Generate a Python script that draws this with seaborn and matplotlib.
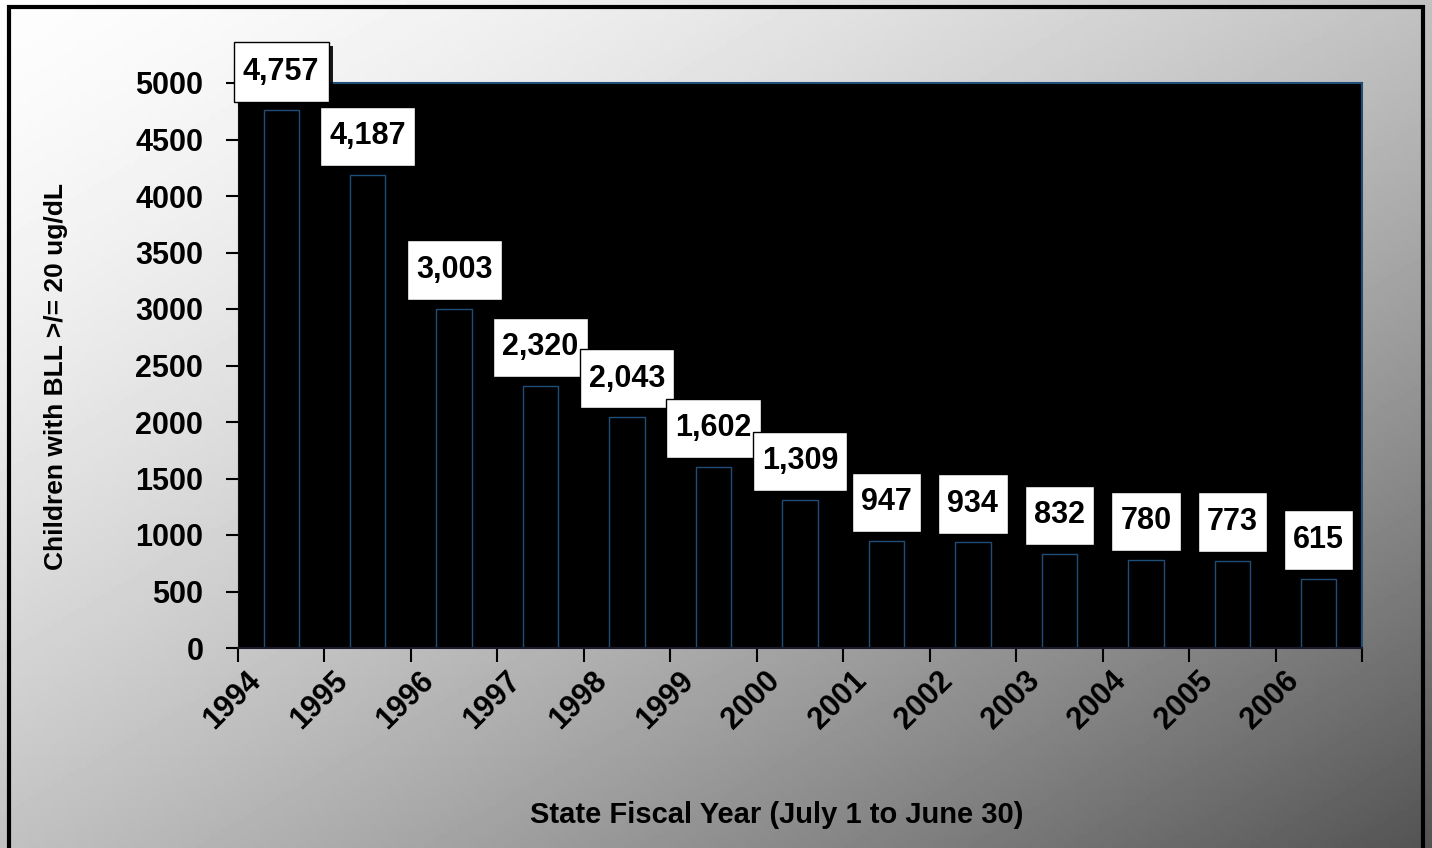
import matplotlib
matplotlib.use("Agg")
import matplotlib.pyplot as plt
import matplotlib.transforms as mtransforms
import matplotlib.patheffects as pe
from matplotlib.patches import Rectangle
import numpy as np
import seaborn as sns

years = ["1994", "1995", "1996", "1997", "1998", "1999", "2000",
         "2001", "2002", "2003", "2004", "2005", "2006"]
children = [4757, 4187, 3003, 2320, 2043, 1602, 1309,
            947, 934, 832, 780, 773, 615]
y_ticks = list(range(0, 5001, 500))

sns.set_style("white")
plt.rcParams["font.family"] = ["Liberation Sans", "DejaVu Sans"]
plt.rcParams["font.weight"] = "bold"
plt.rcParams["text.color"] = "black"
plt.rcParams["axes.labelcolor"] = "black"
plt.rcParams["xtick.color"] = "black"
plt.rcParams["ytick.color"] = "black"

W, H = 1432, 848
fig = plt.figure(figsize=(W / 100, H / 100), dpi=100)

# gradient background, light top-left to dark bottom-right
bg = fig.add_axes([0, 0, 1, 1], zorder=-10)
xx, yy = np.meshgrid(np.linspace(0, 1, 300), np.linspace(0, 1, 180))
t = (xx + yy) / 2
shade = 253 - 170 * t ** 1.5
bg.imshow(shade, cmap="gray", vmin=0, vmax=255, aspect="auto",
          extent=[0, 1, 0, 1], origin="upper")
bg.axis("off")
fig.patches.append(Rectangle((8.5 / W, -0.02), (1423 - 8.5) / W, 1 - 6.5 / H + 0.02,
                             transform=fig.transFigure, fill=False,
                             edgecolor="black", linewidth=3, zorder=5))

ax = fig.add_axes([238 / W, 1 - 648 / H, (1362 - 238) / W, (648 - 83) / H], zorder=1)
ax.set_facecolor("black")

sns.barplot(x=years, y=children, color="black", edgecolor="#1f4e79",
            linewidth=1, width=0.41, saturation=1, ax=ax)

ax.set_xlim(-0.5, len(years) - 0.5)
ax.set_ylim(0, 5000)
ax.set_yticks(y_ticks)
ax.set_yticklabels([str(v) for v in y_ticks], fontsize=22, fontweight="bold")
ax.tick_params(axis="y", direction="out", length=9, width=1.5, color="black", pad=16, left=True)

ax.set_xticks(range(len(years)))
ax.set_xticklabels(years, fontsize=22, fontweight="bold", rotation=45,
                   ha="right", va="top", rotation_mode="anchor")
ax.set_xticks(np.arange(-0.5, len(years)), minor=True)
ax.tick_params(axis="x", which="major", length=0, pad=13)
ax.tick_params(axis="x", which="minor", direction="out", length=10, width=1.5,
               color="black", bottom=True)
shift = mtransforms.ScaledTranslation(-0.35, 0, fig.dpi_scale_trans)
for lbl in ax.get_xticklabels():
    lbl.set_transform(lbl.get_transform() + shift)

for side in ["top", "right"]:
    ax.spines[side].set_color("#1f4e79")
    ax.spines[side].set_linewidth(1.5)
ax.spines["left"].set_color("#111111")
ax.spines["bottom"].set_color("#1a1a2a")
ax.spines["bottom"].set_linewidth(1.5)

ax.set_ylabel("Children with BLL >/= 20 ug/dL", fontsize=19, fontweight="bold")
ax.yaxis.set_label_coords(-0.151, 0.48)
ax.set_xlabel("State Fiscal Year (July 1 to June 30)", fontsize=21, fontweight="bold")
ax.xaxis.set_label_coords(0.4795, -0.27)

for i, v in enumerate(children):
    ann = ax.annotate(f"{v:,}", xy=(i, v), xytext=(0, 17), textcoords="offset points",
                      ha="center", va="bottom", fontsize=22, fontweight="bold",
                      color="black", annotation_clip=False, zorder=6,
                      bbox=dict(boxstyle="square,pad=0.3", facecolor="white",
                                edgecolor="black", linewidth=1, mutation_aspect=1.6))
    ann.get_bbox_patch().set_path_effects(
        [pe.SimplePatchShadow(offset=(3, -3), shadow_rgbFace="black", alpha=0.9), pe.Normal()])

fig.savefig("out.png", dpi=100)
